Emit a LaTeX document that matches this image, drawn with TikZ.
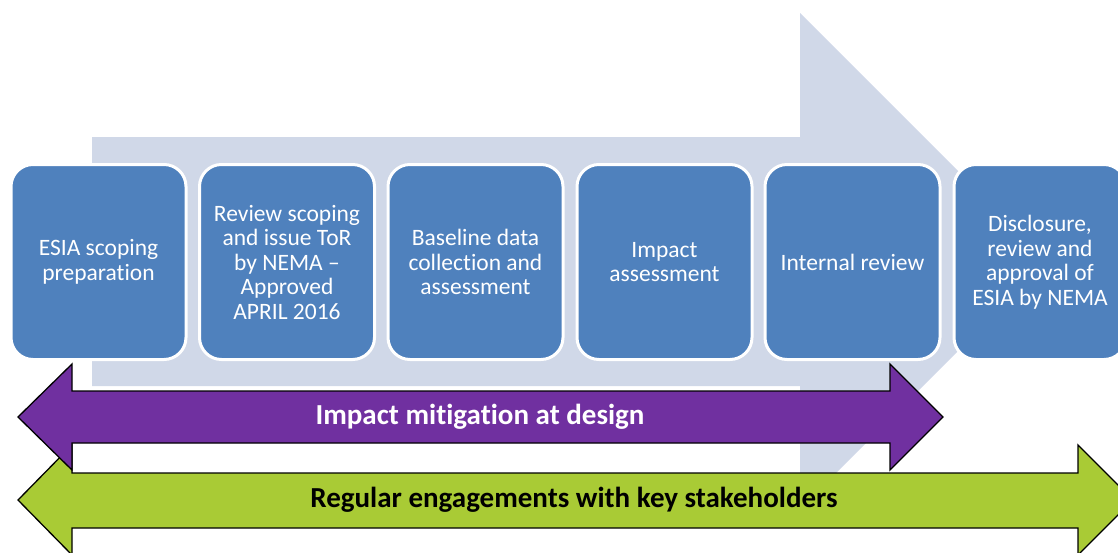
\documentclass[tikz,border=0pt]{standalone}
\usepackage{fontspec}
\setmainfont{Carlito}[Ligatures={NoCommon}]
\definecolor{bgarrow}{HTML}{D0D8E8}
\definecolor{boxblue}{HTML}{4F81BD}
\definecolor{purp}{HTML}{7030A0}
\definecolor{lime}{HTML}{A9CB35}
\tikzset{
  stepbox/.style={draw=white, line width=3pt, fill=boxblue, rounded corners=22pt,
    minimum width=175pt, minimum height=195pt, align=center, text=white,
    font=\fontsize{23.5}{24.5}\selectfont, inner sep=2pt},
  bandarrow/.style={draw=black, line width=1.3pt, line join=miter},
  bandlabel/.style={font=\fontsize{29}{32}\selectfont\bfseries}
}
\begin{document}
\begin{tikzpicture}[x=1pt,y=-1pt]
\useasboundingbox (0,0) rectangle (1118,552);
\clip (0,0) rectangle (1118,552);
% background process arrow
\fill[bgarrow] (92,137) -- (800,137) -- (800,13) -- (1048,261) -- (800,509) -- (800,386) -- (92,386) -- cycle;
% step boxes
\node[stepbox] (s1) at (98.5,262) {ESIA scoping\\preparation};
\node[stepbox] (s2) at (287,262) {Review scoping\\and issue ToR\\by NEMA --\\Approved\\APRIL 2016};
\node[stepbox] (s3) at (475.5,262) {Baseline data\\collection and\\assessment};
\node[stepbox] (s4) at (664.5,262) {Impact\\assessment};
\node[stepbox] (s5) at (852.5,262) {Internal review};
\node[stepbox, minimum width=172pt] (s6) at (1040,262) {Disclosure,\\review and\\approval of\\ESIA by NEMA};
% green arrow
\draw[bandarrow, fill=lime] (18,500) -- (72,445) -- (72,473) -- (1078,473) -- (1078,445) -- (1133,500) -- (1078,555) -- (1078,528) -- (72,528) -- (72,555) -- cycle;
\node[bandlabel, text=black] (g) at (574,500) {Regular engagements with key stakeholders};
% purple arrow
\draw[bandarrow, fill=purp] (18,417) -- (72,364) -- (72,391) -- (890,391) -- (890,364) -- (943,417) -- (890,470) -- (890,443) -- (72,443) -- (72,470) -- cycle;
\node[bandlabel, text=white] (p) at (480,417) {Impact mitigation at design};
\end{tikzpicture}
\end{document}
